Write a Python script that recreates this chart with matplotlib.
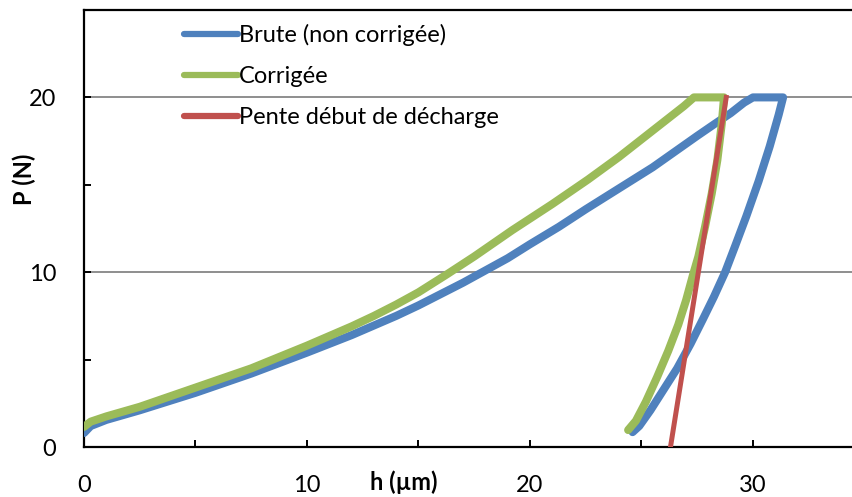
import numpy as np
import matplotlib
matplotlib.use("Agg")
import matplotlib.pyplot as plt
from matplotlib.ticker import MultipleLocator

plt.rcParams['font.family'] = ['Lato', 'DejaVu Sans']

# courbe brute : charge puis décharge
h_brute_charge = [0, 0.3, 1, 2.5, 5, 7.5, 10, 11, 12, 13, 14, 15, 16, 17, 18, 19, 20,
                  21.3, 22.5, 23.5, 24.5, 25.5, 26.5, 27.5, 28.3, 29.0, 29.6, 30.0, 31.35]
p_brute_charge = [0.8, 1.2, 1.55, 2.1, 3.1, 4.2, 5.4, 5.9, 6.4, 6.95, 7.5, 8.1, 8.75, 9.4,
                  10.1, 10.8, 11.6, 12.6, 13.6, 14.4, 15.2, 16.0, 16.9, 17.8, 18.5, 19.1,
                  19.7, 20.0, 20.0]
h_brute_decharge = [31.35, 31.15, 30.75, 30.25, 29.7, 29.2, 28.75, 28.25, 27.75, 27.2,
                    26.6, 26.0, 25.4, 24.9, 24.6]
p_brute_decharge = [20.0, 19.0, 17.2, 15.2, 13.2, 11.5, 10.0, 8.6, 7.3, 5.9,
                    4.5, 3.3, 2.1, 1.2, 0.85]

# courbe corrigée
h_corr_charge = [0, 0.3, 1, 2.5, 5, 7.5, 10, 11, 12, 13, 14, 15, 16.3, 17.5, 19.2,
                 21, 22.6, 24, 25.1, 26.2, 26.9, 27.35, 28.7]
p_corr_charge = [1.15, 1.45, 1.75, 2.3, 3.4, 4.5, 5.8, 6.35, 6.9, 7.5, 8.15, 8.85, 9.9,
                 10.9, 12.4, 13.9, 15.3, 16.6, 17.7, 18.8, 19.5, 20.0, 20.0]
h_corr_decharge = [28.7, 28.6, 28.4, 28.15, 27.85, 27.55, 27.3, 27.0, 26.65, 26.2,
                   25.7, 25.2, 24.75, 24.4]
p_corr_decharge = [20.0, 18.5, 16.4, 14.5, 12.6, 10.9, 9.8, 8.4, 7.0, 5.5,
                   4.0, 2.6, 1.5, 0.97]

# pente au début de la décharge
h_pente = [26.3, 28.8]
p_pente = [0, 20]

bleu = '#4F81BD'
vert = '#9BBB59'
rouge = '#C0504D'

fig = plt.figure(figsize=(8.53, 4.97), dpi=100)
ax = fig.add_axes([84 / 853, 50 / 497, (864.5 - 84) / 853, 437 / 497])

ax.plot(h_brute_charge + h_brute_decharge, p_brute_charge + p_brute_decharge,
        color=bleu, lw=5.8, solid_capstyle='round', solid_joinstyle='round',
        label='Brute (non corrigée)', zorder=3)
ax.plot(h_corr_charge + h_corr_decharge, p_corr_charge + p_corr_decharge,
        color=vert, lw=5.8, solid_capstyle='round', solid_joinstyle='round',
        label='Corrigée', zorder=4)
ax.plot(h_pente, p_pente, color=rouge, lw=3.6, label='Pente début de décharge',
        zorder=5)

ax.set_xlim(0, 35)
ax.set_ylim(0, 25)
ax.xaxis.set_major_locator(MultipleLocator(10))
ax.xaxis.set_minor_locator(MultipleLocator(5))
ax.set_yticks([0, 10, 20])
ax.yaxis.set_minor_locator(MultipleLocator(5))
ax.grid(axis='y', which='major', color='#868686', lw=1.3, zorder=1)

for s in ax.spines.values():
    s.set_linewidth(1.6)
    s.set_color('black')
ax.tick_params(which='both', direction='in', length=5, width=1.4, labelsize=17)
ax.tick_params(axis='x', pad=20)
ax.tick_params(axis='y', pad=20)

fig.text(24 / 853, 1 - 179 / 497, 'P (N)', rotation=90, ha='center', va='center',
         fontsize=17, fontweight='bold')
fig.text(404 / 853, 1 - 482 / 497, 'h (µm)', ha='center', va='center',
         fontsize=17, fontweight='bold')

leg = ax.legend(loc='upper left', bbox_to_anchor=(172 / 853, 1 - 12 / 497),
                bbox_transform=fig.transFigure, frameon=False, fontsize=17,
                handlelength=2.3, handletextpad=0.05, labelspacing=0.85,
                borderpad=0)
for line in leg.get_lines():
    line.set_linewidth(4.5)
    line.set_solid_capstyle('round')

fig.savefig('out.png', dpi=100)
